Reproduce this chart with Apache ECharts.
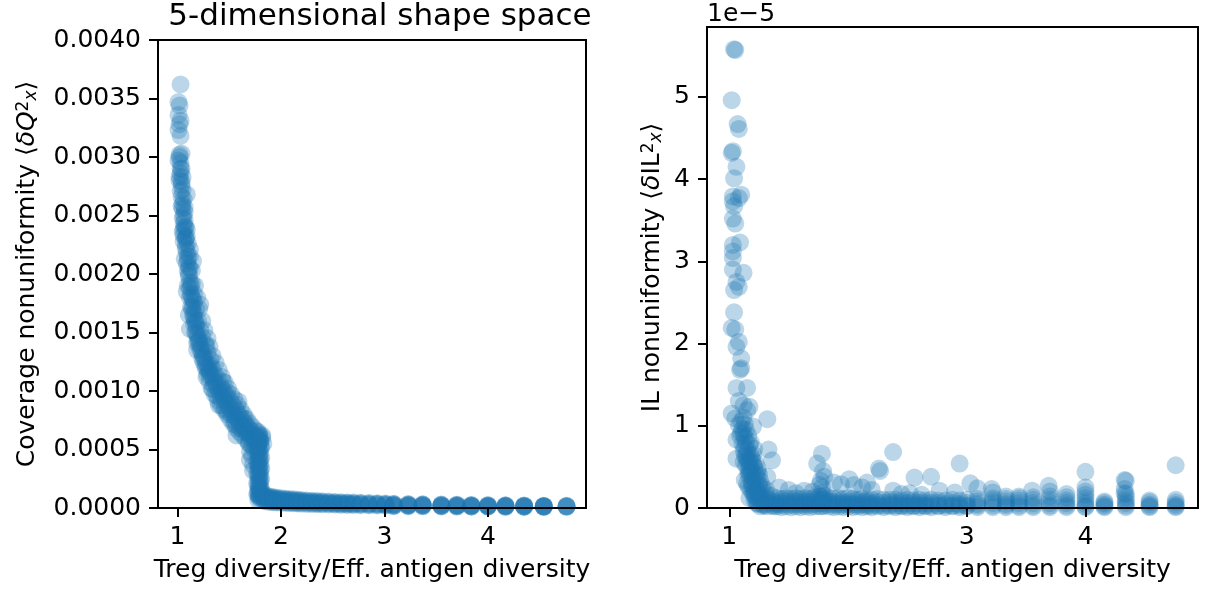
<!DOCTYPE html>
<html>
<head>
<meta charset="utf-8">
<script src="https://cdn.jsdelivr.net/npm/echarts@6/dist/echarts.min.js"></script>
<style>
html, body { margin: 0; padding: 0; background: #fff; }
#chart { width: 1217px; height: 593px; }
</style>
</head>
<body>
<div id="chart"></div>
<script type="text/javascript">

// ---- data ----
var xTicks = [1, 2, 3, 4];
var coverageTicks = [0, 0.0005, 0.001, 0.0015, 0.002, 0.0025, 0.003, 0.0035, 0.004];
var ilTicks = [0, 1, 2, 3, 4, 5];   // IL axis in units of 1e-5

// left panel: the steep decay at low diversity
var coverageCurve = [
    [1.03,0.00362],[1.01,0.00347],[1.02,0.00344],[1.01,0.00336],[1.03,0.00331],[1.02,0.00328],
    [1.01,0.00323],[1.03,0.00318],[1.04,0.00303],[1.02,0.00300],[1.01,0.00297],[1.03,0.00290],
    [1.03,0.00286],[1.02,0.00280],[1.04,0.00276],[1.09,0.00268],[1.04,0.00266],[1.05,0.00260],
    [1.07,0.00253],[1.05,0.00248],[1.06,0.00243],[1.09,0.00238],[1.06,0.00233],[1.06,0.00228],
    [1.08,0.00225],[1.12,0.00221],[1.09,0.00219],[1.07,0.00213],[1.09,0.00209],[1.15,0.00211],
    [1.10,0.00203],[1.11,0.00198],[1.12,0.00193],[1.12,0.00188],[1.09,0.00185],[1.13,0.00183],
    [1.15,0.00178],[1.16,0.00176],[1.22,0.00174],[1.14,0.00170],[1.11,0.00165],[1.16,0.00162],
    [1.18,0.00158],[1.12,0.00153],[1.17,0.00150],[1.20,0.00145],[1.19,0.00141],[1.28,0.00138],
    [1.19,0.00135],[1.24,0.00132],[1.32,0.00127],[1.25,0.00125],[1.27,0.00122],[1.29,0.00118],
    [1.31,0.00115],[1.28,0.00112],[1.44,0.00108],[1.35,0.00105],[1.33,0.00102],[1.48,0.00099],
    [1.38,0.00096],[1.42,0.00093],[1.59,0.00091],[1.40,0.00088],[1.46,0.00085],[1.48,0.00082],
    [1.52,0.00080],[1.65,0.00076],[1.55,0.00074],[1.56,0.00071],[1.60,0.00069],[1.63,0.00067],
    [1.78,0.00065],[1.67,0.00064],[1.57,0.00062],[1.70,0.00060],[1.74,0.00058],[1.69,0.00055],
    [1.76,0.00052],[1.70,0.00048],[1.72,0.00045],[1.70,0.00041],[1.73,0.00037],[1.73,0.00032],
    [1.02,0.00302],[1.03,0.00295],[1.02,0.00283],[1.04,0.00279],[1.03,0.00271],[1.05,0.00256],
    [1.06,0.00250],[1.07,0.00240],[1.05,0.00236],[1.08,0.00231],
    [1.04,0.00290],[1.05,0.00283],[1.05,0.00272],[1.06,0.00264],[1.07,0.00257],[1.07,0.00246],
    [1.08,0.00240],[1.09,0.00232],[1.10,0.00226],[1.04,0.00258],[1.06,0.00238],[1.08,0.00222],
    [1.10,0.00212],[1.11,0.00206]
];

// left panel: extra runs inside the same band
var coverageBand = [
    [1.08,0.00230],[1.10,0.00215],[1.11,0.00200],[1.13,0.00190],[1.14,0.00180],[1.15,0.00172],
    [1.16,0.00166],[1.17,0.00160],[1.18,0.00155],[1.19,0.00148],[1.21,0.00143],[1.22,0.00139],
    [1.23,0.00136],[1.25,0.00130],[1.26,0.00128],[1.28,0.00124],[1.30,0.00120],[1.31,0.00117],
    [1.33,0.00113],[1.35,0.00110],[1.37,0.00107],[1.38,0.00104],[1.40,0.00100],[1.42,0.00098],
    [1.44,0.00095],[1.46,0.00092],[1.48,0.00089],[1.50,0.00086],[1.52,0.00084],[1.54,0.00081],
    [1.56,0.00078],[1.58,0.00076],[1.60,0.00073],[1.62,0.00071],[1.64,0.00069],[1.66,0.00067],
    [1.68,0.00065],[1.70,0.00063],[1.72,0.00061],[1.74,0.00059],[1.76,0.00057],[1.78,0.00055],
    [1.12,0.00205],[1.14,0.00192],[1.16,0.00183],[1.18,0.00170],[1.20,0.00160],[1.22,0.00152],
    [1.24,0.00146],[1.27,0.00140],[1.29,0.00133],[1.32,0.00122],[1.34,0.00119],[1.36,0.00114],
    [1.39,0.00110],[1.41,0.00105],[1.43,0.00102],[1.45,0.00099],[1.47,0.00096],[1.50,0.00093],
    [1.53,0.00089],[1.55,0.00086],[1.57,0.00083],[1.59,0.00080],[1.61,0.00078],[1.63,0.00075],
    [1.65,0.00072],[1.67,0.00070],[1.69,0.00068],[1.71,0.00066],[1.73,0.00063],[1.75,0.00061],
    [1.77,0.00059],[1.79,0.00060],[1.80,0.00058],
    [1.10,0.00190],[1.12,0.00180],[1.13,0.00172],[1.15,0.00165],[1.16,0.00157],[1.18,0.00150],
    [1.20,0.00142],[1.22,0.00135],[1.24,0.00128],[1.27,0.00120],[1.29,0.00114],[1.31,0.00108],
    [1.34,0.00102],[1.36,0.00097],[1.39,0.00092],[1.42,0.00088],[1.45,0.00084],[1.48,0.00080],
    [1.51,0.00076],[1.54,0.00072],[1.57,0.00068],[1.60,0.00065],[1.63,0.00062],[1.66,0.00059],
    [1.69,0.00056],[1.72,0.00053],[1.74,0.00050],
    [1.12,0.00215],[1.14,0.00203],[1.17,0.00190],[1.19,0.00180],[1.21,0.00170],[1.24,0.00160],
    [1.26,0.00152],[1.29,0.00145],[1.31,0.00138],[1.34,0.00130],[1.37,0.00124],[1.40,0.00118],
    [1.43,0.00112],[1.46,0.00107],[1.49,0.00102],[1.52,0.00097],[1.55,0.00093],[1.58,0.00088],
    [1.61,0.00084],[1.64,0.00080],[1.67,0.00076],[1.70,0.00072],[1.73,0.00069],[1.76,0.00066],
    [1.79,0.00063],[1.82,0.00062]
];

// left panel: the vertical drop near 1.8
var coverageDrop = [
    [1.79,0.00062],[1.80,0.00057],[1.78,0.00054],[1.79,0.00050],[1.80,0.00047],[1.78,0.00044],
    [1.79,0.00041],[1.80,0.00038],[1.78,0.00035],[1.79,0.00032],[1.80,0.00029],[1.78,0.00026],
    [1.79,0.00023],[1.80,0.00020],[1.78,0.00018],[1.79,0.00015],[1.80,0.00013],[1.78,0.00011],
    [1.79,0.00009],[1.80,0.00008],[1.78,0.00007],[1.81,0.00052],[1.81,0.00043],[1.81,0.00034],
    [1.81,0.00025],[1.81,0.00016],[1.81,0.00010],[1.77,0.00049],[1.77,0.00039],[1.77,0.00030],
    [1.77,0.00021],[1.77,0.00012],[1.82,0.00060],[1.83,0.00055],
    [1.78,0.00060],[1.79,0.00056],[1.80,0.00052],[1.78,0.00049],[1.79,0.00045],[1.80,0.00042],
    [1.78,0.00039],[1.79,0.00036],[1.80,0.00033],[1.78,0.00030],[1.79,0.00027],[1.80,0.00024],
    [1.78,0.00021],[1.79,0.00018],[1.80,0.00016],[1.78,0.00014],[1.79,0.00012],[1.80,0.00010]
];

// left panel: flat tail, one row per x: [x, y, y, ...]
var coverageTail = [
    [1.84,0.000110,0.000097,0.000085,0.000072,0.000060],[1.87,0.000102,0.000091,0.000080,0.000067,0.000055],
    [1.90,0.000096,0.000086,0.000075,0.000063,0.000052],[1.93,0.000092,0.000082,0.000072,0.000061,0.000050],
    [1.96,0.000088,0.000079,0.000069,0.000058,0.000048],[2.00,0.000084,0.000075,0.000066,0.000056,0.000046],
    [2.04,0.000080,0.000072,0.000063,0.000053,0.000044],[2.08,0.000077,0.000069,0.000061,0.000051,0.000042],
    [2.12,0.000074,0.000066,0.000058,0.000049,0.000040],[2.16,0.000071,0.000064,0.000056,0.000047,0.000039],
    [2.20,0.000068,0.000061,0.000054,0.000045,0.000037],[2.25,0.000065,0.000058,0.000051,0.000043,0.000035],
    [2.30,0.000062,0.000056,0.000049,0.000041,0.000034],[2.35,0.000060,0.000054,0.000047,0.000040,0.000033],
    [2.40,0.000057,0.000051,0.000045,0.000038,0.000031],[2.46,0.000055,0.000049,0.000043,0.000037,0.000030],
    [2.52,0.000052,0.000047,0.000041,0.000035,0.000029],[2.58,0.000050,0.000045,0.000039,0.000033,0.000027],
    [2.64,0.000048,0.000043,0.000038,0.000032,0.000026],[2.70,0.000046,0.000041,0.000036,0.000031,0.000025],
    [2.77,0.000044,0.000040,0.000035,0.000029,0.000024],[2.85,0.000042,0.000038,0.000033,0.000028,0.000023],
    [2.93,0.000040,0.000036,0.000031,0.000027,0.000022],[3.01,0.000038,0.000034,0.000030,0.000025,0.000021],
    [3.09,0.000036,0.000032,0.000029,0.000025,0.000022,0.000019,0.000016],
    [3.23,0.000034,0.000030,0.000027,0.000024,0.000021,0.000018,0.000015],
    [3.37,0.000032,0.000029,0.000026,0.000023,0.000020,0.000017,0.000014],
    [3.55,0.000030,0.000027,0.000024,0.000021,0.000018,0.000015,0.000013],
    [3.70,0.000028,0.000025,0.000023,0.000020,0.000017,0.000014,0.000012],
    [3.84,0.000026,0.000023,0.000021,0.000018,0.000016,0.000013,0.000011],
    [4.00,0.000025,0.000022,0.000020,0.000017,0.000015,0.000013,0.000011],
    [4.17,0.000023,0.000021,0.000019,0.000016,0.000014,0.000012,0.000010],
    [4.35,0.000022,0.000020,0.000018,0.000015,0.000013,0.000011,0.000009],
    [4.54,0.000020,0.000018,0.000016,0.000014,0.000012,0.000010,0.000009],
    [4.76,0.000019,0.000016,0.000014,0.000012,0.000010]
];

// right panel (values in 1e-5): the tall spike near 1
var ilPeak = [
    [1.04,5.58],[1.05,5.57],[1.02,4.96],[1.07,4.67],[1.08,4.61],[1.02,4.32],[1.03,4.34],
    [1.06,4.15],[1.04,4.01],[1.03,3.79],[1.10,3.81],[1.08,3.77],[1.03,3.73],[1.04,3.67],
    [1.03,3.52],[1.05,3.46],[1.09,3.23],[1.03,3.20],[1.03,3.12],[1.03,3.04],[1.03,2.90],
    [1.12,2.86],[1.06,2.75],[1.08,2.69],[1.04,2.65],[1.04,2.38],[1.02,2.19],[1.05,2.17],
    [1.08,2.02],[1.06,1.96],[1.10,1.82],[1.10,1.70],[1.09,1.68],[1.06,1.46],[1.15,1.46]
];

// right panel: the knee between 1.0 and 1.4
var ilKnee = [
    [1.12,1.25],[1.17,1.23],[1.15,1.19],[1.02,1.15],[1.05,1.09],[1.32,1.08],[1.08,1.01],
    [1.20,0.99],[1.10,0.91],[1.13,0.85],[1.06,0.83],[1.17,0.77],[1.15,0.71],[1.33,0.71],
    [1.06,0.60],[1.36,0.58],[1.12,0.56],[1.20,0.54],[1.16,0.46],[1.24,0.44],[1.13,0.34],
    [1.32,0.38],[1.16,0.26],[1.08,1.30],[1.12,1.10],[1.14,0.95],[1.16,0.88],[1.18,0.80],
    [1.12,0.70],[1.20,0.65],[1.14,0.62],[1.22,0.55],[1.18,0.50],[1.24,0.48],[1.16,0.40],
    [1.20,0.36],[1.26,0.33],[1.22,0.30],[1.28,0.26],[1.18,0.22],[1.24,0.20],[1.30,0.18],
    [1.26,0.14],[1.32,0.12],[1.21,0.10],[1.28,0.08],[1.34,0.06],[1.30,0.04],[1.36,0.03],
    [1.15,0.30],[1.19,0.44],[1.23,0.38],[1.27,0.24],[1.17,0.58],[1.21,0.72],[1.25,0.16],
    [1.29,0.12],[1.33,0.09],[1.38,0.07],[1.40,0.05],[1.11,0.78],[1.09,0.88],[1.13,1.02],
    [1.14,0.52],[1.18,0.64],[1.22,0.42],[1.25,0.28],[1.20,0.18],[1.23,0.06],[1.17,0.12],
    [1.26,0.02],[1.31,0.22],[1.35,0.15],
    [1.12,0.90],[1.14,0.80],[1.15,0.66],[1.16,0.56],[1.17,0.48],[1.18,0.40],[1.19,0.32],
    [1.20,0.26],[1.21,0.20],[1.22,0.14],[1.23,0.10],[1.24,0.05],[1.13,0.74],[1.15,0.58],
    [1.17,0.42],[1.19,0.28],[1.21,0.16],[1.23,0.22],[1.25,0.10],[1.27,0.05],[1.29,0.03],
    [1.10,1.05],[1.11,0.96],[1.13,0.64],[1.19,0.60],[1.21,0.50],[1.25,0.40],[1.27,0.18],
    [1.32,0.02],[1.38,0.02]
];

// right panel: isolated points above the floor
var ilOutliers = [
    [1.78,0.66],[1.74,0.54],[1.79,0.45],[1.80,0.38],[2.26,0.48],[2.27,0.45],[2.38,0.68],
    [2.56,0.37],[2.70,0.38],[2.94,0.54],[3.03,0.30],[4.00,0.44],[4.00,0.25],[4.00,0.20],
    [4.33,0.34],[4.34,0.33],[4.33,0.23],[4.33,0.18],[4.76,0.52],[2.01,0.35],[1.94,0.29],
    [2.16,0.31],[3.55,0.21],[3.69,0.27],[3.70,0.20],[3.84,0.17],[3.21,0.23],[3.22,0.19],
    [1.42,0.25],[1.50,0.22],[1.63,0.21],[1.88,0.31],[2.38,0.21],[2.77,0.21],[2.90,0.19],
    [3.33,0.14],[3.44,0.14],[3.09,0.24],[2.05,0.28],[2.12,0.25],[2.20,0.22],[2.45,0.17],
    [2.52,0.18],[2.62,0.16],[1.56,0.18],[1.70,0.20],[1.76,0.28],[1.77,0.33],[1.78,0.25]
];

// right panel: the floor near zero, one row per x: [x, y, y, ...]
var ilFloor = [
    [1.40,0.12,0.08,0.05,0.02],[1.44,0.11,0.07,0.04,0.01],[1.48,0.12,0.08,0.05,0.02],
    [1.52,0.11,0.07,0.04,0.01],[1.56,0.12,0.08,0.05,0.02],[1.60,0.11,0.07,0.04,0.01],
    [1.64,0.12,0.08,0.05,0.02],[1.68,0.11,0.07,0.04,0.01],[1.72,0.13,0.09,0.05,0.02],
    [1.76,0.14,0.10,0.06,0.02],[1.78,0.18,0.14,0.10,0.06,0.02],[1.80,0.15,0.11,0.07,0.03],
    [1.84,0.12,0.08,0.05,0.02],[1.88,0.11,0.07,0.04,0.01],[1.92,0.12,0.08,0.05,0.02],
    [1.96,0.11,0.07,0.04,0.01],[2.00,0.12,0.08,0.05,0.02],[2.04,0.11,0.07,0.04,0.01],
    [2.08,0.10,0.07,0.04,0.02],[2.12,0.11,0.07,0.04,0.01],[2.16,0.10,0.07,0.04,0.02],
    [2.20,0.10,0.06,0.03,0.01],[2.25,0.11,0.07,0.04,0.02],[2.30,0.10,0.06,0.03,0.01],
    [2.35,0.10,0.07,0.04,0.02],[2.40,0.10,0.06,0.03,0.01],[2.45,0.09,0.06,0.03,0.02],
    [2.50,0.10,0.06,0.03,0.01],[2.55,0.09,0.06,0.03,0.02],[2.60,0.10,0.06,0.03,0.01],
    [2.65,0.09,0.06,0.03,0.02],[2.70,0.10,0.06,0.03,0.01],[2.76,0.09,0.06,0.03,0.02],
    [2.82,0.09,0.05,0.03,0.01],[2.88,0.10,0.06,0.03,0.02],[2.94,0.09,0.05,0.03,0.01],
    [3.00,0.10,0.06,0.03,0.02],
    [3.09,0.11,0.08,0.05,0.03,0.01],[3.22,0.12,0.09,0.06,0.03,0.01],[3.33,0.11,0.08,0.05,0.03,0.01],
    [3.44,0.12,0.09,0.06,0.03,0.01],[3.56,0.13,0.10,0.06,0.03,0.01],[3.70,0.14,0.10,0.06,0.03,0.01],
    [3.84,0.13,0.09,0.06,0.03,0.01],[4.00,0.16,0.12,0.08,0.05,0.02,0.01],[4.16,0.08,0.06,0.04,0.02,0.01],
    [4.34,0.17,0.13,0.09,0.06,0.03,0.01],[4.54,0.09,0.07,0.04,0.02,0.01],[4.76,0.10,0.07,0.04,0.02,0.01]
];

// rows [x, y1, y2, ...] -> points [x, y]
function unrow(rows) {
    var out = [];
    rows.forEach(function (r) {
        for (var i = 1; i < r.length; i++) out.push([r[0], r[i]]);
    });
    return out;
}

var font = 'DejaVu Sans';
var blue = '#1f77b4';

function xAxisFor(gi) {
    return {
        type: 'value', gridIndex: gi, min: 0.812, max: 4.948, z: 5,
        axisLine: { show: true, onZero: false, lineStyle: { color: '#000', width: 2 } },
        axisTick: { show: true, length: 9, customValues: xTicks, lineStyle: { color: '#000', width: 2 } },
        axisLabel: { margin: 17, customValues: xTicks, fontFamily: font, fontSize: 25, color: '#000' },
        splitLine: { show: false },
        name: 'Treg diversity/Eff. antigen diversity',
        nameLocation: 'middle', nameGap: 50,
        nameTextStyle: { fontFamily: font, fontSize: 25, color: '#000' }
    };
}

var nameRich = {
    t: { fontFamily: font, fontSize: 25, color: '#000' },
    m: { fontFamily: font, fontSize: 25, fontStyle: 'italic', color: '#000' },
    s: { fontFamily: font, fontSize: 17, color: '#000', verticalAlign: 'top' },
    b: { fontFamily: font, fontSize: 17, fontStyle: 'italic', color: '#000', verticalAlign: 'bottom' }
};

function yAxisFor(gi, max, ticks, fmt, name, gap) {
    return {
        type: 'value', gridIndex: gi, min: 0, max: max, z: 5,
        axisLine: { show: true, onZero: false, lineStyle: { color: '#000', width: 2 } },
        axisTick: { show: true, length: 9, customValues: ticks, lineStyle: { color: '#000', width: 2 } },
        axisLabel: { margin: 17, customValues: ticks, formatter: fmt, fontFamily: font, fontSize: 25, color: '#000' },
        splitLine: { show: false },
        name: name, nameLocation: 'middle', nameGap: gap,
        nameTextStyle: { fontFamily: font, fontSize: 25, color: '#000', rich: nameRich }
    };
}

function scatter(gi, data) {
    return {
        type: 'scatter', xAxisIndex: gi, yAxisIndex: gi, data: data,
        symbol: 'circle', symbolSize: 18, clip: true,
        itemStyle: { color: blue, opacity: 0.3 },
        emphasis: { disabled: true }
    };
}

var myChart = echarts.init(document.getElementById('chart'), null, { renderer: 'canvas' });
var option = {
    animation: false,
    backgroundColor: '#fff',
    textStyle: { fontFamily: font },
    grid: [
        { left: 158, top: 40, width: 428, height: 468, show: true, borderColor: '#000', borderWidth: 2 },
        { left: 707, top: 27, width: 491, height: 481, show: true, borderColor: '#000', borderWidth: 2 }
    ],
    xAxis: [xAxisFor(0), xAxisFor(1)],
    yAxis: [
        yAxisFor(0, 0.004, coverageTicks, function (v) { return v.toFixed(4); },
            '{t|Coverage nonuniformity ⟨}{m|δQ}{s|2}{b|x}{t|⟩}', 118),
        yAxisFor(1, 5.85, ilTicks, function (v) { return String(v); },
            '{t|IL nonuniformity ⟨}{m|δ}{t|IL}{s|2}{b|x}{t|⟩}', 42)
    ],
    series: [
        scatter(0, [].concat(coverageCurve, coverageBand, coverageDrop, unrow(coverageTail))),
        scatter(1, [].concat(ilPeak, ilKnee, ilOutliers, unrow(ilFloor)))
    ],
    graphic: [
        // the left x label runs past its panel and is cut off there
        { type: 'rect', z: 100, shape: { x: 591, y: 545, width: 40, height: 48 }, style: { fill: '#fff' } },
        { type: 'text', x: 380, y: 17, z: 100,
          style: { text: '5-dimensional shape space', font: '31px "DejaVu Sans"', fill: '#000',
                   align: 'center', verticalAlign: 'middle' } },
        { type: 'text', x: 707, y: 14, z: 100,
          style: { text: '1e\u22125', font: '25px "DejaVu Sans"', fill: '#000',
                   align: 'left', verticalAlign: 'middle' } }
    ]
};
myChart.setOption(option);

</script>
</body>
</html>
